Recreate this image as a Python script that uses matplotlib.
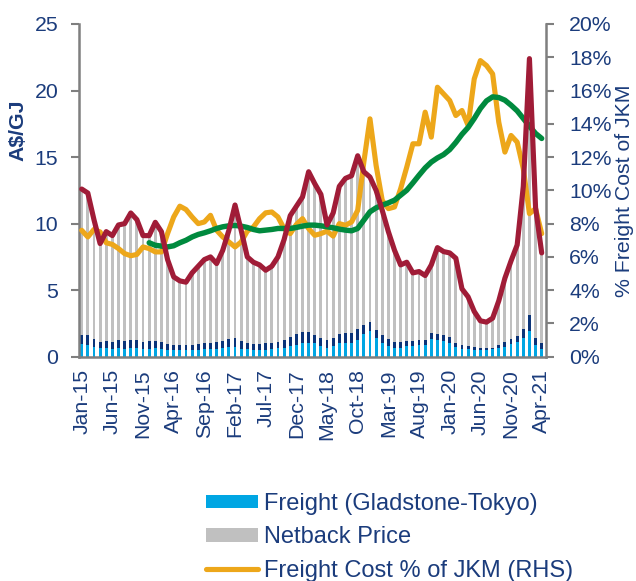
import matplotlib
matplotlib.use("Agg")
import matplotlib.pyplot as plt
from matplotlib.patches import Patch
from matplotlib.lines import Line2D
import numpy as np

plt.rcParams['font.family'] = ['Liberation Sans', 'DejaVu Sans']

# ---------------- data ----------------
months = ["Jan-15","Feb-15","Mar-15","Apr-15","May-15","Jun-15","Jul-15","Aug-15","Sep-15","Oct-15","Nov-15","Dec-15",
          "Jan-16","Feb-16","Mar-16","Apr-16","May-16","Jun-16","Jul-16","Aug-16","Sep-16","Oct-16","Nov-16","Dec-16",
          "Jan-17","Feb-17","Mar-17","Apr-17","May-17","Jun-17","Jul-17","Aug-17","Sep-17","Oct-17","Nov-17","Dec-17",
          "Jan-18","Feb-18","Mar-18","Apr-18","May-18","Jun-18","Jul-18","Aug-18","Sep-18","Oct-18","Nov-18","Dec-18",
          "Jan-19","Feb-19","Mar-19","Apr-19","May-19","Jun-19","Jul-19","Aug-19","Sep-19","Oct-19","Nov-19","Dec-19",
          "Jan-20","Feb-20","Mar-20","Apr-20","May-20","Jun-20","Jul-20","Aug-20","Sep-20","Oct-20","Nov-20","Dec-20",
          "Jan-21","Feb-21","Mar-21","Apr-21"]

# JKM price (A$/GJ, red line, top of stacked bars)
jkm = [12.6, 12.3, 10.3, 8.5, 9.4, 9.1, 9.9, 10.0, 10.8, 10.3,
       9.1, 9.1, 10.1, 9.4, 7.3, 6.0, 5.7, 5.6, 6.3, 6.8,
       7.3, 7.5, 7.0, 8.0, 9.5, 11.4, 9.5, 7.5, 7.1, 6.9,
       6.5, 6.8, 7.5, 8.8, 10.6, 11.3, 12.0, 13.9, 13.0, 12.2,
       9.9, 10.8, 12.8, 13.4, 13.6, 15.1, 13.9, 13.5, 12.5, 11.0,
       9.4, 8.0, 6.9, 7.1, 6.3, 6.4, 6.1, 6.9, 8.2, 7.9,
       7.8, 7.4, 5.1, 4.5, 3.4, 2.7, 2.6, 2.9, 4.2, 5.9,
       7.2, 8.4, 12.8, 22.4, 11.2, 7.8]

# Freight Gladstone-Tokyo (A$/GJ, light blue)
freight = [0.95, 0.88, 0.75, 0.63, 0.63, 0.58, 0.63, 0.58, 0.63, 0.63,
           0.58, 0.58, 0.63, 0.55, 0.50, 0.48, 0.48, 0.48, 0.50, 0.53,
           0.55, 0.55, 0.55, 0.63, 0.73, 0.73, 0.60, 0.55, 0.53, 0.53,
           0.53, 0.58, 0.63, 0.68, 0.80, 0.90, 1.00, 1.00, 1.00, 0.80,
           0.68, 0.80, 1.00, 1.05, 1.05, 1.25, 1.68, 1.95, 1.40, 1.05,
           0.80, 0.68, 0.68, 0.80, 0.80, 0.88, 0.88, 1.33, 1.23, 1.20,
           1.05, 0.75, 0.60, 0.58, 0.53, 0.50, 0.50, 0.55, 0.63, 0.75,
           0.93, 1.08, 1.40, 1.93, 0.90, 0.60]

# Other shipping costs (A$/GJ, dark blue)
other_costs = [0.70, 0.72, 0.58, 0.50, 0.55, 0.55, 0.60, 0.60, 0.62, 0.60,
               0.55, 0.60, 0.57, 0.58, 0.43, 0.40, 0.42, 0.37, 0.38, 0.45,
               0.48, 0.48, 0.53, 0.57, 0.60, 0.70, 0.55, 0.48, 0.45, 0.45,
               0.47, 0.47, 0.50, 0.57, 0.70, 0.83, 0.85, 0.83, 0.63, 0.63,
               0.57, 0.58, 0.70, 0.70, 0.75, 0.83, 0.70, 0.65, 0.60, 0.60,
               0.53, 0.40, 0.45, 0.38, 0.35, 0.35, 0.37, 0.45, 0.45, 0.43,
               0.43, 0.30, 0.30, 0.22, 0.20, 0.18, 0.15, 0.13, 0.27, 0.35,
               0.42, 0.47, 0.68, 1.20, 0.53, 0.45]

# Freight cost % of JKM (RHS, yellow)
freight_pct = [7.6, 7.2, 7.65, 7.5, 6.85, 6.75, 6.5, 6.2, 6.07, 6.15,
               6.6, 6.5, 6.3, 6.3, 7.4, 8.4, 9.05, 8.85, 8.4, 8.0,
               8.1, 8.5, 7.6, 7.2, 6.9, 6.6, 6.9, 7.55, 7.8, 8.3,
               8.65, 8.7, 8.4, 7.7, 7.4, 7.95, 8.3, 7.7, 7.3, 7.4,
               7.55, 7.25, 8.0, 7.9, 8.1, 8.8, 11.7, 14.3, 11.5, 9.4,
               8.9, 9.0, 10.1, 11.4, 12.8, 12.8, 14.7, 13.2, 16.2, 15.8,
               15.4, 14.5, 14.8, 13.9, 16.7, 17.8, 17.5, 17.0, 14.1, 12.3,
               13.3, 12.9, 11.3, 8.6, 8.9, 7.4]

# 12-month average of freight % (RHS, green) starting Dec-15
avg_start = 11
freight_pct_avg = [6.85, 6.7, 6.65, 6.6, 6.67, 6.85, 7.0, 7.2, 7.35,
                   7.45, 7.57, 7.71, 7.81, 7.87, 7.89, 7.85, 7.77, 7.65, 7.57,
                   7.61, 7.65, 7.71, 7.71, 7.71, 7.77, 7.85, 7.91, 7.91, 7.87,
                   7.81, 7.75, 7.67, 7.61, 7.57, 7.71, 8.21, 8.71, 8.95, 9.11,
                   9.25, 9.41, 9.71, 10.01, 10.45, 10.91, 11.35, 11.7, 11.95, 12.15,
                   12.45, 12.88, 13.37, 13.78, 14.32, 14.92, 15.38, 15.62, 15.58, 15.42,
                   15.12, 14.78, 14.32, 13.86, 13.42, 13.12]

legend_labels = ["Freight (Gladstone-Tokyo)", "Netback Price", "Freight Cost % of JKM (RHS)"]

# ---------------- styling ----------------
NAVY_TXT = "#1B3C7C"
LIGHT_BLUE = "#00A6E3"
DARK_BLUE = "#0B3479"
GREY = "#C0C0C0"
RED = "#A01C37"
YELLOW = "#EDA71A"
GREEN = "#008A3E"
AXIS = "#7F7F7F"
FS = 15.3

x = np.arange(len(months))
jkm_a = np.array(jkm)
fr = np.array(freight)
oc = np.array(other_costs)
netback = jkm_a - fr - oc

fig = plt.figure(figsize=(6.36, 5.81), dpi=100)
ax = fig.add_axes([0.1242, 0.386, 0.7338, 0.5727])
ax2 = ax.twinx()

w = 0.46
ax.bar(x, fr, width=w, color=LIGHT_BLUE, linewidth=0)
ax.bar(x, oc, width=w, bottom=fr, color=DARK_BLUE, linewidth=0)
ax.bar(x, netback, width=w, bottom=fr + oc, color=GREY, linewidth=0)

ax.set_xlim(-0.44, 75.65)
ax.set_ylim(0, 25)
ax2.set_ylim(0, 20)

ax2.plot(x, freight_pct, color=YELLOW, lw=3.7, solid_joinstyle='round', solid_capstyle='round', zorder=3)
ax2.plot(x[avg_start:], freight_pct_avg, color=GREEN, lw=3.9, solid_joinstyle='round', solid_capstyle='round', zorder=4)
ax2.plot(x, jkm_a, color=RED, lw=3.7, solid_joinstyle='round', solid_capstyle='round', zorder=5,
         transform=ax.transData)
ax2.set_ylim(0, 20)

ax.set_yticks(np.arange(0, 26, 5))
ax2.set_yticks(np.arange(0, 21, 2))
ax2.set_yticklabels([f"{v}%" for v in range(0, 21, 2)])
ax.set_xticks(x[::5])
ax.set_xticklabels(months[::5], rotation=90)

for a in (ax, ax2):
    a.spines['top'].set_visible(False)
    for s in ('left', 'right', 'bottom'):
        a.spines[s].set_color(AXIS)
        a.spines[s].set_linewidth(1.8)
ax.spines['right'].set_visible(False)
ax2.spines['left'].set_visible(False)
ax2.spines['bottom'].set_visible(False)

ax.tick_params(axis='y', colors=AXIS, labelcolor=NAVY_TXT, labelsize=FS, length=6, width=1.5, pad=9)
ax2.tick_params(axis='y', colors=AXIS, labelcolor=NAVY_TXT, labelsize=FS, length=6, width=1.5, pad=11)
ax.tick_params(axis='x', length=0, labelcolor=NAVY_TXT, labelsize=FS, pad=9)

ax.set_ylabel("A$/GJ", color=NAVY_TXT, fontsize=FS, fontweight='bold')
ax.yaxis.set_label_coords(-0.111, 0.68)
ax2.set_ylabel("% Freight Cost of JKM", color=NAVY_TXT, fontsize=FS)
ax2.yaxis.set_label_coords(1.149, 0.5)

handles = [Patch(facecolor=LIGHT_BLUE, edgecolor='none'),
           Patch(facecolor=GREY, edgecolor='none'),
           Line2D([0], [0], color=YELLOW, lw=3.7, solid_capstyle='round')]
leg = fig.legend(handles, legend_labels, loc='upper left', bbox_to_anchor=(206 / 636, 1 - 493 / 581),
                 frameon=False, fontsize=17, handlelength=2.2, handleheight=0.5, handletextpad=0.25,
                 labelspacing=0.48, borderpad=0, borderaxespad=0)
for t in leg.get_texts():
    t.set_color(NAVY_TXT)

fig.savefig("out.png", dpi=100)
